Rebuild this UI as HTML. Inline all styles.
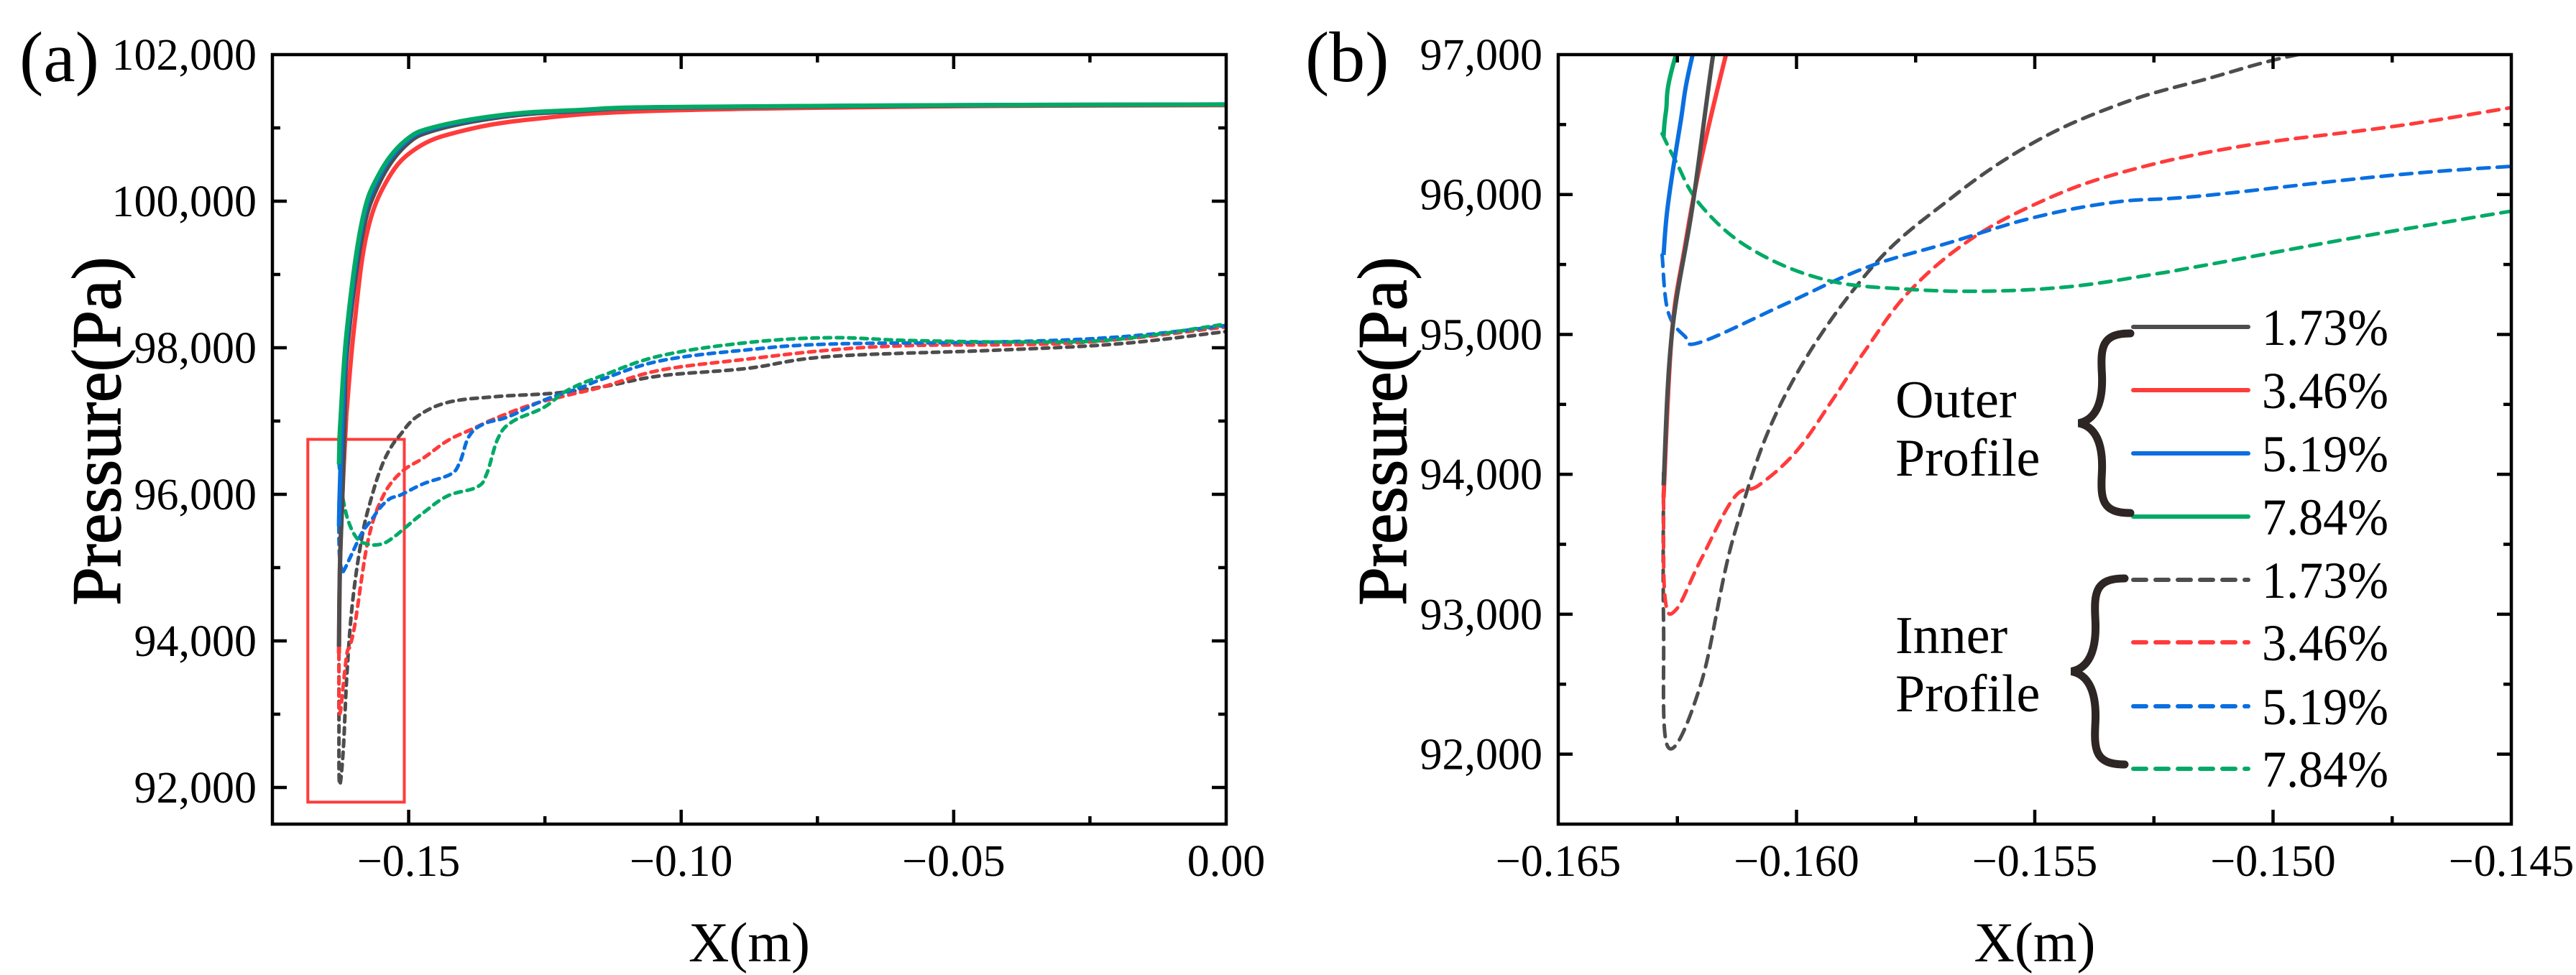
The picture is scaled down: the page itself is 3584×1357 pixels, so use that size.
<!DOCTYPE html>
<html><head><meta charset="utf-8">
<style>
html,body{margin:0;padding:0;background:#fff;}
svg{display:block;}
text{font-family:"Liberation Serif",serif;fill:#000;}
</style></head>
<body>
<svg id="fig" width="3584" height="1357" viewBox="0 0 3584 1357" xmlns="http://www.w3.org/2000/svg">
<defs>
<clipPath id="clipA"><rect x="379" y="76" width="1327" height="1071"/></clipPath>
<clipPath id="clipB"><rect x="2168" y="76" width="1326" height="1071"/></clipPath>
</defs>
<g id="panelA"></g>
<g id="panelB"></g>
</svg>
<script>
// ---- data (x in m, pressure in Pa) ----
const outer173X = [-0.16279,-0.16262,-0.16218,-0.16175,-0.1613,-0.1586,-0.1555,-0.1507,-0.1449,-0.1317,-0.1186,-0.1037,-0.05,0];
const outer173Y = [93922,94989,95923,97000,97950,99500,100230,100750,100975,101160,101230,101275,101305,101318];
const outer346X = [-0.16279,-0.16262,-0.16235,-0.16201,-0.16148,-0.1613,-0.1600,-0.1577,-0.1538,-0.1485,-0.1406,-0.1274,-0.1037,-0.05,0];
const outer346Y = [93833,94989,95612,96235,97000,97200,98275,99549,100304,100725,100951,101118,101235,101295,101310];
const outer519X = [-0.16279,-0.1627,-0.16244,-0.16218,-0.1613,-0.1586,-0.1555,-0.1507,-0.1449,-0.1317,-0.1186,-0.1037,-0.05,0];
const outer519Y = [95568,95923,96502,97000,98150,99650,100320,100800,101005,101178,101240,101282,101310,101320];
const outer784X = [-0.16279,-0.16274,-0.16253,-0.1613,-0.1586,-0.1555,-0.1507,-0.1449,-0.1317,-0.1186,-0.1037,-0.05,0];
const outer784Y = [96413,96591,97000,98275,99716,100363,100824,101020,101186,101245,101284,101310,101320];

const inner173X = [-0.16279,-0.16279,-0.1627,-0.16201,-0.16131,-0.16027,-0.15853,-0.15678,-0.15504,-0.1533,-0.15157,-0.1485,-0.1428,-0.1340,-0.1230,-0.1142,-0.1037,-0.0881,-0.0728,-0.0425,-0.0197,0];
const inner173Y = [94010,92943,92053,92498,93566,94545,95434,95968,96368,96635,96810,97059,97255,97333,97382,97471,97618,97717,97880,97966,98054,98222];
const inner346X = [-0.16279,-0.16276,-0.16253,-0.16201,-0.16131,-0.16079,-0.1600,-0.15922,-0.15853,-0.15765,-0.15644,-0.15504,-0.1533,-0.1507,-0.1472,-0.1428,-0.1383,-0.1340,-0.1274,-0.1208,-0.1142,-0.1037,-0.0881,-0.0728,-0.0576,-0.0272,0];
const inner346Y = [93833,93121,93032,93388,93833,93922,94166,94545,94900,95301,95657,95923,96146,96343,96500,96735,96892,97039,97225,97353,97471,97696,97843,97968,98030,98069,98284];
const inner519X = [-0.16282,-0.1627,-0.16235,-0.16201,-0.16027,-0.15853,-0.15678,-0.15504,-0.1533,-0.1515,-0.1472,-0.1423,-0.1406,-0.1389,-0.1362,-0.1317,-0.1252,-0.1186,-0.1142,-0.1037,-0.0881,-0.0728,-0.0425,-0.0197,0];
const inner519Y = [95568,95167,94989,94945,95212,95479,95657,95834,95946,95990,96147,96275,96441,96794,96961,97059,97284,97451,97578,97824,97970,98050,98078,98147,98304];
const inner784X = [-0.16282,-0.16253,-0.16201,-0.16096,-0.15939,-0.15765,-0.15591,-0.15417,-0.15243,-0.1515,-0.1472,-0.1428,-0.1375,-0.1357,-0.1336,-0.1310,-0.1252,-0.1208,-0.1142,-0.1037,-0.0881,-0.0728,-0.0576,-0.0348,-0.0197,0];
const inner784Y = [96435,96235,95923,95612,95390,95323,95310,95345,95434,95490,95755,95980,96098,96275,96765,96990,97186,97422,97627,97892,98069,98137,98098,98078,98118,98324];

const legendLabels = ["1.73%","3.46%","5.19%","7.84%"];
const ticksAX = [-0.15,-0.10,-0.05,0.00];
const ticksAXLabels = ["\u22120.15","\u22120.10","\u22120.05","0.00"];
const ticksAY = [92000,94000,96000,98000,100000,102000];
const ticksAYLabels = ["92,000","94,000","96,000","98,000","100,000","102,000"];
const ticksBX = [-0.165,-0.160,-0.155,-0.150,-0.145];
const ticksBXLabels = ["\u22120.165","\u22120.160","\u22120.155","\u22120.150","\u22120.145"];
const ticksBY = [92000,93000,94000,95000,96000,97000];
const ticksBYLabels = ["92,000","93,000","94,000","95,000","96,000","97,000"];

const NS="http://www.w3.org/2000/svg";
const colors=["#4d4d4d","#ff3b3b","#0a6fe0","#00aa66"];
const outerSeries=[[outer173X,outer173Y],[outer346X,outer346Y],[outer519X,outer519Y],[outer784X,outer784Y]];
const innerSeries=[[inner173X,inner173Y],[inner346X,inner346Y],[inner519X,inner519Y],[inner784X,inner784Y]];
const pctNames=["173","346","519","784"];

function mk(tag,attrs,parent){const e=document.createElementNS(NS,tag);for(const k in attrs)e.setAttribute(k,attrs[k]);parent.appendChild(e);return e;}
function pathFrom(pts){
  let d="M"+pts[0][0].toFixed(1)+","+pts[0][1].toFixed(1);
  for(let i=0;i<pts.length-1;i++){
    const p0=pts[Math.max(i-1,0)],p1=pts[i],p2=pts[i+1],p3=pts[Math.min(i+2,pts.length-1)];
    const t=0.18;
    const c1=[p1[0]+(p2[0]-p0[0])*t,p1[1]+(p2[1]-p0[1])*t];
    const c2=[p2[0]-(p3[0]-p1[0])*t,p2[1]-(p3[1]-p1[1])*t];
    d+=" C"+c1[0].toFixed(1)+","+c1[1].toFixed(1)+" "+c2[0].toFixed(1)+","+c2[1].toFixed(1)+" "+p2[0].toFixed(1)+","+p2[1].toFixed(1);
  }
  return d;
}

function panel(g,cfg){
  const sx=v=>cfg.L+(v-cfg.x0)/(cfg.x1-cfg.x0)*(cfg.R-cfg.L);
  const sy=v=>cfg.B-(v-cfg.y0)/(cfg.y1-cfg.y0)*(cfg.B-cfg.T);
  const data=mk("g",{"clip-path":"url(#"+cfg.clip+")"},g);
  
  
  if(cfg.box){
    const r=mk("rect",{x:sx(cfg.box[0]),y:sy(cfg.box[3]),width:sx(cfg.box[1])-sx(cfg.box[0]),height:sy(cfg.box[2])-sy(cfg.box[3]),fill:"none",stroke:"#ff3b3b","stroke-width":4},data);
    
    
  }
  innerSeries.forEach((s,i)=>{
    const pts=s[0].map((x,k)=>[sx(x),sy(s[1][k])]);
    const p=mk("path",{d:pathFrom(pts),fill:"none",stroke:colors[i],"stroke-width":cfg.lw,"stroke-dasharray":cfg.dash,"stroke-linecap":"round"},data);
    
    
  });
  [1,0,2,3].forEach(i=>{
    const s=outerSeries[i];
    const pts=s[0].map((x,k)=>[sx(x),sy(s[1][k])]);
    const p=mk("path",{d:pathFrom(pts),fill:"none",stroke:colors[i],"stroke-width":cfg.lw+1},data);
    
    
  });
  const fr=mk("rect",{x:cfg.L,y:cfg.T,width:cfg.R-cfg.L,height:cfg.B-cfg.T,fill:"none",stroke:"#000","stroke-width":4.5},g);
  
  
  const tg=mk("g",{stroke:"#000","stroke-width":4.5},g);
  
  
  const dx=cfg.xt[1]-cfg.xt[0], dy=cfg.yt[1]-cfg.yt[0];
  for(let v=cfg.x0;v<=cfg.x1+1e-9;v+=dx/2){
    const major=cfg.xt.some(t=>Math.abs(t-v)<1e-9);const len=major?20:11;const x=sx(v);
    if(x<cfg.L+2||x>cfg.R-2) continue;
    mk("line",{x1:x,x2:x,y1:cfg.B,y2:cfg.B-len},tg);mk("line",{x1:x,x2:x,y1:cfg.T,y2:cfg.T+len},tg);
  }
  for(let v=cfg.y1;v>=cfg.y0-1e-9;v-=dy/2){
    const major=cfg.yt.some(t=>Math.abs(t-v)<1e-6);const len=major?20:11;const y=sy(v);
    if(y<cfg.T+2||y>cfg.B-2) continue;
    mk("line",{x1:cfg.L,x2:cfg.L+len,y1:y,y2:y},tg);mk("line",{x1:cfg.R,x2:cfg.R-len,y1:y,y2:y},tg);
  }
  cfg.xt.forEach((v,i)=>{
    const t=mk("text",{x:sx(v),y:1219,"font-size":62,"text-anchor":"middle"},g);t.textContent=cfg.xl[i];
    
    
  });
  cfg.yt.forEach((v,i)=>{
    const t=mk("text",{x:cfg.L-22,y:sy(v)+21,"font-size":62,"text-anchor":"end"},g);t.textContent=cfg.yl[i];
    
    
  });
  const xt=mk("text",{x:(cfg.L+cfg.R)/2,y:1338,"font-size":78,"text-anchor":"middle"},g);xt.textContent="X(m)";
  
  
  const yt=mk("text",{x:0,y:0,"font-size":96,"text-anchor":"middle","stroke":"#000","stroke-width":1.5,transform:"translate("+(cfg.L-212)+",600) rotate(-90)"},g);yt.textContent="Pressure(Pa)";
  
  
  const pl=mk("text",{x:cfg.L-352,y:113,"font-size":100,fill:"#2e2624"},g);pl.textContent=cfg.label;
  
  
}

panel(document.getElementById("panelA"),{L:379,R:1706,T:76,B:1147,x0:-0.175,x1:0,y0:91500,y1:102000,clip:"clipA",
  xt:ticksAX,xl:ticksAXLabels,yt:ticksAY,yl:ticksAYLabels,lw:5,dash:"9 8",label:"(a)",box:[-0.1685,-0.1508,91800,96750]});
panel(document.getElementById("panelB"),{L:2168,R:3494,T:76,B:1147,x0:-0.165,x1:-0.145,y0:91500,y1:97000,clip:"clipB",
  xt:ticksBX,xl:ticksBXLabels,yt:ticksBY,yl:ticksBYLabels,lw:5,dash:"16 11",label:"(b)"});

const svg=document.getElementById("fig");
const lg=mk("g",{},svg);


const rowsY=[455,543,631,719,807,894,983,1070];
for(let r=0;r<8;r++){
  const i=r%4, dashed=r>=4;
  const e=mk("g",{},lg);
  
  
  const a={x1:2968,x2:3128,y1:rowsY[r],y2:rowsY[r],stroke:colors[i],"stroke-width":6,"stroke-linecap":"round"};
  if(dashed)a["stroke-dasharray"]="18 13";
  mk("line",a,e);
  const t=mk("text",{x:3147,y:rowsY[r]+25,"font-size":72,textLength:176,lengthAdjust:"spacingAndGlyphs"},e);
  t.textContent=legendLabels[i];
}
function brace(tx,ty,px,by,name){
  const my=(ty+by)/2,h=(by-ty)/2,w=tx-px;
  const d="M"+tx+","+ty+" C"+(tx-w*0.55)+","+(ty)+" "+(px+w*0.42)+","+(ty+h*0.15)+" "+(px+w*0.45)+","+(ty+h*0.45)+
    " C"+(px+w*0.48)+","+(ty+h*0.8)+" "+(px+w*0.3)+","+(my-4)+" "+px+","+my+
    " C"+(px+w*0.3)+","+(my+4)+" "+(px+w*0.48)+","+(by-h*0.8)+" "+(px+w*0.45)+","+(by-h*0.45)+
    " C"+(px+w*0.42)+","+(by-h*0.15)+" "+(tx-w*0.55)+","+by+" "+tx+","+by;
  const p=mk("path",{d:d,fill:"none",stroke:"#2e2624","stroke-width":11,"stroke-linecap":"round"},lg);
  
  
}
brace(2964,464,2892,714,'outer-brace');
brace(2956,805,2882,1064,'inner-brace');
[["Outer",2637,581],["Profile",2637,662],["Inner",2637,909],["Profile",2637,990]].forEach(a=>{
  const t=mk("text",{x:a[1],y:a[2],"font-size":74,fill:"#2e2624"},lg);t.textContent=a[0];
  
  
});
</script>
</body></html>
